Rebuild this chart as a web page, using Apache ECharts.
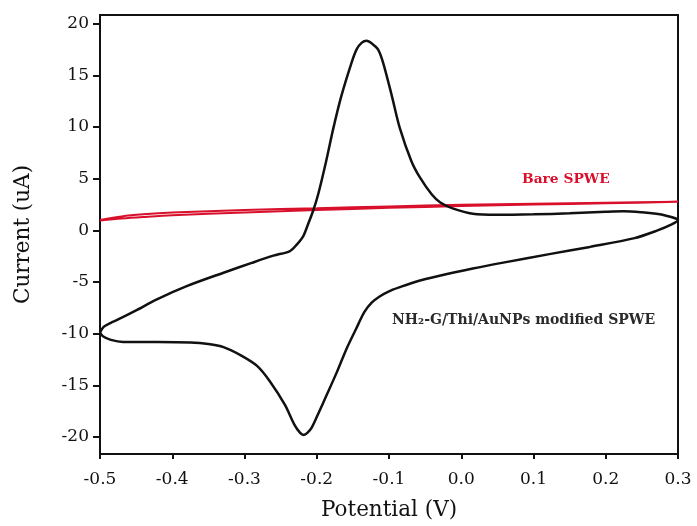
<!DOCTYPE html>
<html>
<head>
<meta charset="utf-8">
<script src="https://cdn.jsdelivr.net/npm/echarts@6/dist/echarts.min.js"></script>
<style>html,body{margin:0;padding:0;background:#fff;}#c{width:697px;height:526px;}</style>
</head>
<body>
<div id="c"></div>
<script>
// ---- data ----
var xTicks = [-0.5, -0.4, -0.3, -0.2, -0.1, 0.0, 0.1, 0.2, 0.3];
var yTicks = [-20, -15, -10, -5, 0, 5, 10, 15, 20];

// NH2-G/Thi/AuNPs modified SPWE (closed CV loop: anodic sweep, then cathodic sweep)
var modPotential = [-0.500,-0.495,-0.485,-0.477,-0.450,-0.422,-0.380,-0.329,-0.290,-0.260,-0.237,-0.228,-0.219,-0.212,-0.205,-0.198,-0.187,-0.177,-0.166,-0.152,-0.145,-0.138,-0.131,-0.123,-0.115,-0.108,-0.096,-0.085,-0.069,-0.057,-0.041,-0.029,-0.011,0.016,0.050,0.100,0.150,0.200,0.225,0.250,0.270,0.285,0.295,0.300,
  0.292,0.270,0.240,0.178,0.122,0.060,0.016,-0.030,-0.064,-0.085,-0.100,-0.113,-0.124,-0.134,-0.146,-0.159,-0.172,-0.186,-0.197,-0.207,-0.213,-0.218,-0.223,-0.231,-0.244,-0.265,-0.283,-0.305,-0.329,-0.350,-0.375,-0.420,-0.468,-0.485,-0.496,-0.500];
var modCurrent = [-9.9,-9.35,-8.95,-8.7,-7.75,-6.7,-5.4,-4.1,-3.15,-2.45,-2.0,-1.4,-0.6,0.6,1.9,3.5,6.7,9.9,13.0,16.2,17.5,18.15,18.35,18.05,17.5,16.2,13.0,9.9,6.7,5.1,3.5,2.7,2.1,1.6,1.5,1.55,1.65,1.8,1.85,1.75,1.6,1.4,1.2,1.0,
  0.6,-0.05,-0.75,-1.6,-2.3,-3.1,-3.7,-4.4,-5.0,-5.5,-5.9,-6.4,-7.0,-7.9,-9.6,-11.5,-13.7,-15.9,-17.6,-19.1,-19.6,-19.8,-19.6,-18.8,-16.9,-14.6,-13.1,-12.1,-11.3,-11.0,-10.85,-10.8,-10.8,-10.6,-10.25,-9.9];

// Bare SPWE (thin closed loop)
var barePotential = [-0.500,-0.470,-0.440,-0.400,-0.300,-0.200,-0.100,0.000,0.100,0.200,0.300,
  0.300,0.200,0.100,0.000,-0.100,-0.200,-0.300,-0.400,-0.440,-0.470,-0.500];
var bareCurrent = [1.0,1.35,1.55,1.72,1.98,2.15,2.32,2.47,2.58,2.68,2.77,
  2.72,2.62,2.5,2.36,2.18,1.97,1.74,1.47,1.3,1.15,0.95];

function pairs(xs, ys){ var out=[]; for(var i=0;i<xs.length;i++) out.push([xs[i], ys[i]]); return out; }

var chart = echarts.init(document.getElementById('c'), null, {renderer:'canvas'});
var serif = 'DejaVu Serif';
chart.setOption({
  animation: false,
  backgroundColor: '#fff',
  grid: {left: 100, right: 19, top: 15, bottom: 67, show: true, borderColor: '#111', borderWidth: 2},
  xAxis: {
    type: 'value', min: -0.5, max: 0.3, interval: 0.1,
    name: 'Potential (V)', nameLocation: 'middle', nameGap: 45,
    nameTextStyle: {fontFamily: serif, fontSize: 21.5, color: '#111'},
    axisLine: {show: true, onZero: false, lineStyle: {color: '#111', width: 2}},
    axisTick: {show: true, length: 5, lineStyle: {color: '#111', width: 2}},
    axisLabel: {fontFamily: serif, fontSize: 17, color: '#111', margin: 17,
      formatter: function(v){ return v.toFixed(1); }},
    splitLine: {show: false}
  },
  yAxis: {
    type: 'value', min: -21.65, max: 20.85,
    name: 'Current (uA)', nameLocation: 'middle', nameGap: 66,
    nameTextStyle: {fontFamily: serif, fontSize: 21.5, color: '#111'},
    axisLine: {show: true, onZero: false, lineStyle: {color: '#111', width: 2}},
    axisTick: {show: true, length: 7, lineStyle: {color: '#111', width: 2}, customValues: yTicks},
    axisLabel: {fontFamily: serif, fontSize: 17, color: '#111', margin: 11, customValues: yTicks,
      formatter: function(v){ return String(v); }},
    splitLine: {show: false}
  },
  series: [
    {type: 'line', data: pairs(barePotential, bareCurrent), smooth: 0.3, showSymbol: false,
     lineStyle: {color: '#d8102c', width: 2}, z: 2},
    {type: 'line', data: pairs(modPotential, modCurrent), smooth: 0.3, showSymbol: false,
     lineStyle: {color: '#111', width: 2.5}, z: 3}
  ],
  graphic: [
    {type: 'text', left: 522, top: 172, style: {text: 'Bare SPWE', fontFamily: serif, fontWeight: 'bold', fontSize: 13.8, fill: '#d8102c'}},
    {type: 'text', left: 392, top: 313, style: {text: 'NH₂-G/Thi/AuNPs modified SPWE', fontFamily: serif, fontWeight: 'bold', fontSize: 14, fill: '#2a2a2a'}}
  ]
});
</script>
</body>
</html>
